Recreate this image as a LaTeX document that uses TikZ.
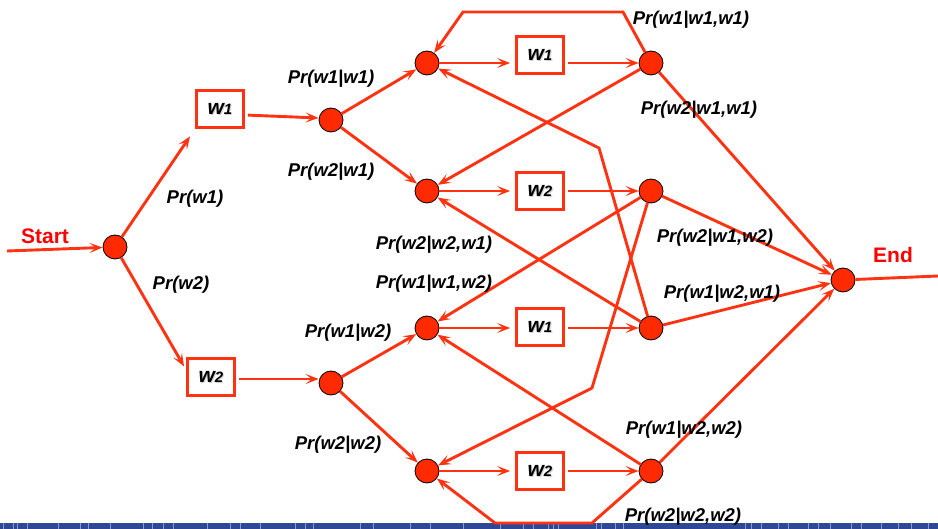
\documentclass[tikz,border=0pt]{standalone}
\usepackage{fontspec}
\setmainfont{Liberation Sans}
\usetikzlibrary{arrows.meta}

\definecolor{wire}{RGB}{255,51,17}
\definecolor{dot}{RGB}{255,42,0}
\definecolor{barblue}{RGB}{46,72,150}
\definecolor{barmark}{RGB}{140,150,200}

% word label with a soft grey drop shadow
\newcommand\wordlabel[1]{%
  \makebox[0pt][l]{\raisebox{-1pt}{\hspace{1pt}\textcolor{black!18}{\fontsize{21}{21}\selectfont w\fontsize{15}{15}\selectfont #1}}}%
  {\fontsize{21}{21}\selectfont w\fontsize{15}{15}\selectfont #1}}

\begin{document}
\begin{tikzpicture}[x=1pt,y=-1pt,
  wireline/.style={draw=wire, line width=2.9pt},
  arr/.style={wireline, -{Stealth[length=13pt,width=10pt,inset=6pt]}},
  state/.style={circle, fill=dot, draw=black, line width=0.8pt, minimum size=24pt, inner sep=0pt},
  wordbox/.style={draw=wire, line width=2.8pt, minimum width=47pt, minimum height=37pt,
    inner sep=0pt, fill=white, font=\bfseries\itshape},
  prob/.style={font=\fontsize{18.5}{20}\selectfont\bfseries\itshape, inner sep=0pt},
  tag/.style={font=\fontsize{21}{22}\selectfont\bfseries, text=red, inner sep=0pt}
]
\useasboundingbox (0,0) rectangle (938,529);

% footer band
\fill[barblue] (0,523) rectangle (938,529);
\foreach \x in {3,13,17,27,58,80,88,110,143,152,163,173,207,230,240,260,295,305,313,360,373,410,430,463,
                500,523,533,548,553,558,596,601,615,623,745,751,761,778,788,808,818,830,851,861,881,898,911,928}
  \draw[barmark, line width=0.8pt] (\x,523) -- (\x,529);

% states
\node[state] (S)  at (115,247) {};
\node[state] (A1) at (331,120) {};
\node[state] (A2) at (331,383) {};
\node[state] (L1) at (427,63) {};
\node[state] (L2) at (427,191) {};
\node[state] (L3) at (427,328) {};
\node[state] (L4) at (427,471) {};
\node[state] (R1) at (651,63) {};
\node[state] (R2) at (651,191) {};
\node[state] (R3) at (651,328) {};
\node[state] (R4) at (651,471) {};
\node[state] (E)  at (843,280) {};

% emitted words
\node[wordbox] (B1) at (220,109) {\wordlabel{1}};
\node[wordbox] (B2) at (211,377) {\wordlabel{2}};
\node[wordbox] (M1) at (540,55)  {\wordlabel{1}};
\node[wordbox] (M2) at (540,191) {\wordlabel{2}};
\node[wordbox] (M3) at (540,327) {\wordlabel{1}};
\node[wordbox] (M4) at (540,471) {\wordlabel{2}};

% entry and exit
\coordinate (in)  at (7,251);
\coordinate (out) at (938,276);
\node[tag] (start) at (45,236) {Start};
\node[tag] (end)   at (893,255) {End};
\draw[arr] (in) -- (S);
\draw[wireline] (E) -- (out);

% first word
\draw[arr, shorten >=9pt] (S) -- (B1.south west);
\draw[arr, shorten >=4pt] (S) -- ([yshift=7pt]B2.west);
\draw[arr, shorten <=3pt] ([yshift=-6pt]B1.east) -- ([yshift=2pt]A1.west);
\draw[arr, shorten <=3pt] ([yshift=-2pt]B2.east) -- ([yshift=-2pt]B2.east -| A2.west);

% second word
\draw[arr] (A1) -- (L1);
\draw[arr] (A1) -- (L2);
\draw[arr] (A2) -- (L3);
\draw[arr] (A2) -- (L4);

% word emission between columns
\foreach \i in {1,2,3,4} {
  \draw[arr, shorten >=5pt] (L\i.east) -- (L\i.east -| M\i.west);
  \draw[arr, shorten <=3pt] (R\i.west -| M\i.east) -- (R\i.west);
}

% transitions back into the left column
\coordinate (t1) at (623,12);
\coordinate (t2) at (463,12);
\coordinate (k1) at (599,148);
\coordinate (k2) at (592,388);
\coordinate (b1) at (592,523);
\coordinate (b2) at (495,523);
\draw[arr] (R1) -- (t1) -- (t2) -- (L1);
\draw[arr] (R1) -- (L2);
\draw[arr] (R3) -- (k1) -- (L1);
\draw[arr] (R2) -- (L3);
\draw[arr] (R3) -- (L2);
\draw[arr] (R4) -- (L3);
\draw[arr] (R2) -- (k2) -- (L4);
\draw[arr] (R4) -- (b1) -- (b2) -- (L4);

% transitions to the end state
\draw[arr] (R1) -- (E);
\draw[arr] (R2) -- (E);
\draw[arr] (R3) -- (E);
\draw[arr] (R4) -- (E);

% probabilities
\node[prob] at (195,199) {Pr(w1)};
\node[prob] at (181,285) {Pr(w2)};
\node[prob] at (331,79)  {Pr(w1|w1)};
\node[prob] at (331,172) {Pr(w2|w1)};
\node[prob] at (348,333) {Pr(w1|w2)};
\node[prob] at (338,445) {Pr(w2|w2)};
\node[prob] at (691,20)  {Pr(w1|w1,w1)};
\node[prob] at (699,110) {Pr(w2|w1,w1)};
\node[prob] at (715,238) {Pr(w2|w1,w2)};
\node[prob] at (722,294) {Pr(w1|w2,w1)};
\node[prob] at (434,245) {Pr(w2|w2,w1)};
\node[prob] at (434,284) {Pr(w1|w1,w2)};
\node[prob] at (684,430) {Pr(w1|w2,w2)};
\node[prob] at (683,517) {Pr(w2|w2,w2)};
\end{tikzpicture}
\end{document}
